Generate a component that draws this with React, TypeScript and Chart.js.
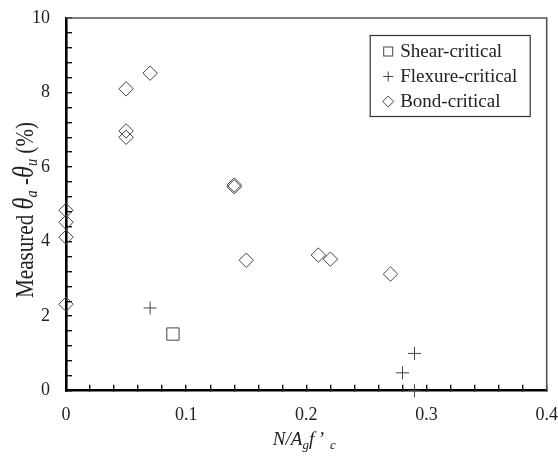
import { useEffect, useRef } from 'react';
import { Chart, registerables } from 'chart.js';

Chart.register(...registerables);

// ---- data ----
const seriesNames = ['Shear-critical', 'Flexure-critical', 'Bond-critical'];
const shearX = [0.089];
const shearY = [1.52];
const flexX = [0.07, 0.28, 0.29, 0.29];
const flexY = [2.22, 0.48, 1.0, 0];
const bondX = [0, 0, 0, 0, 0.05, 0.05, 0.05, 0.07, 0.14, 0.14, 0.15, 0.21, 0.22, 0.27];
const bondY = [4.84, 4.52, 4.12, 2.32, 8.1, 6.97, 6.8, 8.52, 5.52, 5.47, 3.5, 3.64, 3.53, 3.13];
const xTickLabels = [0, 0.1, 0.2, 0.3, 0.4];
const yTickLabels = [0, 2, 4, 6, 8, 10];

const SERIF = '"Liberation Serif", "Times New Roman", serif';

type Run = { t: string; it?: boolean; sub?: boolean; big?: number };

function runFont(r: Run, size: number) {
  const s = (r.sub ? size * 0.68 : size) * (r.big || 1);
  return `${r.it ? 'italic ' : ''}${s}px ${SERIF}`;
}
function runsWidth(ctx: CanvasRenderingContext2D, runs: Run[], size: number) {
  let w = 0;
  for (const r of runs) {
    ctx.font = runFont(r, size);
    w += ctx.measureText(r.t).width;
  }
  return w;
}
function drawRuns(ctx: CanvasRenderingContext2D, runs: Run[], size: number, x: number, y: number, subDrop: number) {
  let cx = x;
  ctx.textBaseline = 'alphabetic';
  ctx.textAlign = 'left';
  for (const r of runs) {
    ctx.font = runFont(r, size);
    ctx.fillText(r.t, cx, r.sub ? y + size * subDrop : y);
    cx += ctx.measureText(r.t).width;
  }
}

const yTitle: Run[] = [
  { t: 'Measured ' },
  { t: 'θ', it: true, big: 1.15 },
  { t: 'a', it: true, sub: true },
  { t: ' -' },
  { t: 'θ', it: true, big: 1.15 },
  { t: 'u', it: true, sub: true },
  { t: ' (%)' },
];
const xTitle: Run[] = [
  { t: 'N/A', it: true },
  { t: 'g', it: true, sub: true },
  { t: 'f', it: true },
  { t: ' ’ ' },
  { t: 'c', it: true, sub: true },
];

const decor = {
  id: 'decor',
  afterDraw(chart: any) {
    const ctx: CanvasRenderingContext2D = chart.ctx;
    const a = chart.chartArea;
    ctx.save();
    // top and right frame
    ctx.strokeStyle = '#555';
    ctx.lineWidth = 1.6;
    ctx.beginPath();
    ctx.moveTo(a.left, a.top);
    ctx.lineTo(a.right, a.top);
    ctx.lineTo(a.right, a.bottom);
    ctx.stroke();

    // legend
    const bx = a.right - 176.5;
    const by = a.top + 17.5;
    ctx.strokeStyle = '#333';
    ctx.lineWidth = 1.2;
    ctx.strokeRect(bx, by, 160, 81);
    const sx = bx + 18;
    const rows = [by + 16, by + 41, by + 66];
    ctx.strokeStyle = '#444';
    ctx.lineWidth = 1;
    // square
    ctx.strokeRect(sx - 4.5, rows[0] - 4.5, 9, 9);
    // plus
    ctx.beginPath();
    ctx.moveTo(sx - 5, rows[1]);
    ctx.lineTo(sx + 5, rows[1]);
    ctx.moveTo(sx, rows[1] - 5);
    ctx.lineTo(sx, rows[1] + 5);
    ctx.stroke();
    // diamond
    ctx.beginPath();
    ctx.moveTo(sx - 5.5, rows[2]);
    ctx.lineTo(sx, rows[2] - 5.5);
    ctx.lineTo(sx + 5.5, rows[2]);
    ctx.lineTo(sx, rows[2] + 5.5);
    ctx.closePath();
    ctx.stroke();
    ctx.fillStyle = '#222';
    ctx.font = `19px ${SERIF}`;
    ctx.textAlign = 'left';
    ctx.textBaseline = 'middle';
    seriesNames.forEach((n, i) => ctx.fillText(n, sx + 12, rows[i] + 1));

    // x title (slightly stretched like the reference)
    ctx.fillStyle = '#222';
    const xs = 18;
    const xw = runsWidth(ctx, xTitle, xs);
    const xTarget = 63;
    const xScale = xTarget / xw;
    const xc = (a.left + a.right) / 2 - 2;
    ctx.save();
    ctx.translate(xc - xTarget / 2, a.bottom + 54.5);
    ctx.scale(xScale, 1);
    drawRuns(ctx, xTitle, xs, 0, 0, 0.22);
    ctx.restore();

    // y title (condensed like the reference)
    const ys = 25;
    const yw = runsWidth(ctx, yTitle, ys);
    const yTarget = 176;
    const yScale = yTarget / yw;
    ctx.save();
    ctx.translate(33, 210);
    ctx.rotate(-Math.PI / 2);
    ctx.scale(yScale, 1);
    drawRuns(ctx, yTitle, ys, -yw / 2, 0, 0.16);
    ctx.restore();

    ctx.restore();
  },
};

function near(list: number[], v: number) {
  return list.find((t) => Math.abs(t - v) < 1e-7);
}

export default function App() {
  const ref = useRef<HTMLCanvasElement | null>(null);
  useEffect(() => {
    document.body.style.margin = '0';
    const canvas = ref.current;
    if (!canvas) return;
    const chart = new Chart(canvas, {
      type: 'scatter',
      data: {
        datasets: [
          {
            label: seriesNames[0],
            data: shearX.map((x, i) => ({ x, y: shearY[i] })),
            pointStyle: 'rect',
            pointRadius: 8.7,
            backgroundColor: 'rgba(0,0,0,0)',
            borderColor: '#444',
            borderWidth: 1,
            clip: false,
          },
          {
            label: seriesNames[1],
            data: flexX.map((x, i) => ({ x, y: flexY[i] })),
            pointStyle: 'cross',
            pointRadius: 6.5,
            backgroundColor: 'rgba(0,0,0,0)',
            borderColor: '#444',
            borderWidth: 1,
            clip: false,
          },
          {
            label: seriesNames[2],
            data: bondX.map((x, i) => ({ x, y: bondY[i] })),
            pointStyle: 'rectRot',
            pointRadius: 7.2,
            backgroundColor: 'rgba(0,0,0,0)',
            borderColor: '#444',
            borderWidth: 1,
            clip: false,
          },
        ] as any,
      },
      options: {
        animation: false,
        responsive: false,
        events: [],
        layout: { padding: { left: 0, top: 18, right: 11.3, bottom: 0 } },
        plugins: { legend: { display: false }, tooltip: { enabled: false } },
        scales: {
          x: {
            type: 'linear',
            position: 'bottom',
            min: 0,
            max: 0.4,
            afterFit: (s: any) => {
              s.height = 65.3;
              s.paddingLeft = 0;
              s.paddingRight = 0;
            },
            ticks: {
              stepSize: 0.02,
              maxTicksLimit: 100,
              autoSkip: false,
              maxRotation: 0,
              padding: 20,
              color: '#222',
              font: { family: SERIF, size: 18 },
              callback: (v: any) => {
                const m = near(xTickLabels, Number(v));
                return m === undefined ? '' : String(m);
              },
            },
            grid: {
              drawOnChartArea: false,
              drawTicks: true,
              tickLength: -6,
              color: '#111',
              lineWidth: 1.4,
            },
            border: { color: '#000', width: 2.6 },
            title: { display: false },
          },
          y: {
            type: 'linear',
            position: 'left',
            min: 0,
            max: 10,
            afterFit: (s: any) => {
              s.width = 66;
              s.paddingTop = 0;
              s.paddingBottom = 0;
            },
            ticks: {
              stepSize: 0.4,
              maxTicksLimit: 100,
              autoSkip: false,
              padding: 22,
              color: '#222',
              font: { family: SERIF, size: 18 },
              callback: (v: any) => {
                const m = near(yTickLabels, Number(v));
                return m === undefined ? '' : String(m);
              },
            },
            grid: {
              drawOnChartArea: false,
              drawTicks: true,
              tickLength: -6,
              color: '#111',
              lineWidth: 1.4,
            },
            border: { color: '#000', width: 2.6 },
            title: { display: false },
          },
        },
      } as any,
      plugins: [decor],
    });
    return () => chart.destroy();
  }, []);
  return <canvas ref={ref} width={558} height={456} style={{ display: 'block' }} />;
}
